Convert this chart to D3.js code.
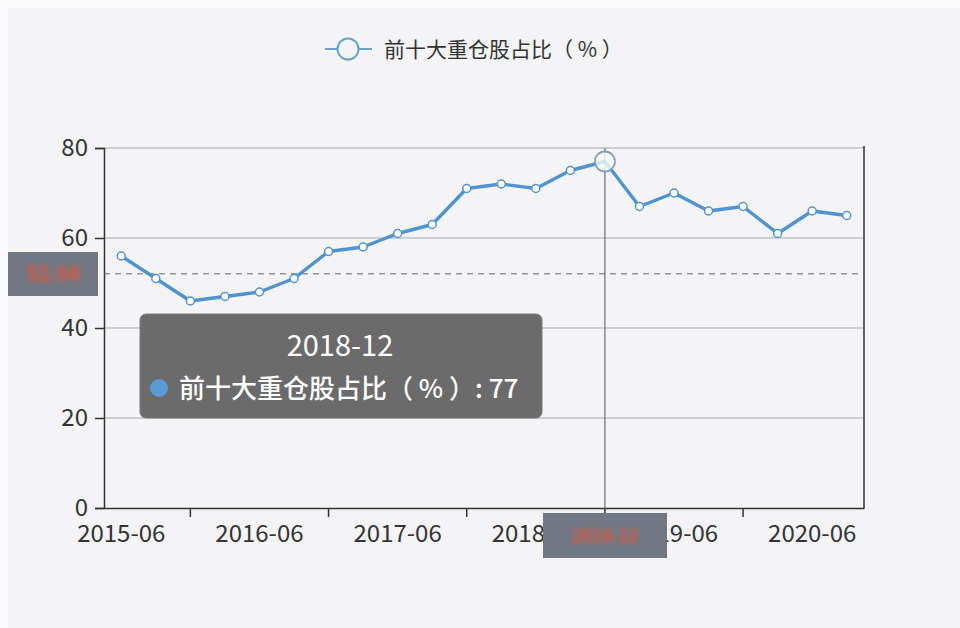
<!DOCTYPE html>
<html><head><meta charset="utf-8">
<script src="https://cdn.jsdelivr.net/npm/d3@7/dist/d3.min.js"></script>
<style>html,body{margin:0;padding:0;background:#fbfbfc;}svg{display:block;}</style>
</head><body>
<svg id="c" width="960" height="628"></svg>
<script>
const categories = ["2015-06","2015-09","2015-12","2016-03","2016-06","2016-09","2016-12","2017-03","2017-06","2017-09","2017-12","2018-03","2018-06","2018-09","2018-12","2019-03","2019-06","2019-09","2019-12","2020-03","2020-06","2020-09"];
const values = [56,51,46,47,48,51,57,58,61,63,71,72,71,75,77,67,70,66,67,61,66,65];
const seriesName = "前十大重仓股占比（ % ）";
const yTicks = [0,20,40,60,80];
const xLabelCats = ["2015-06","2016-06","2017-06","2018-06","2019-06","2020-06"];
const xTickCats = ["2015-12","2016-12","2017-12","2018-12","2019-12"];
const hoverCat = "2018-12";
const hoverY = 52.04;

const font = "'Noto Sans CJK SC','Noto Sans',sans-serif";
const svg = d3.select("#c");
const W = 960, H = 628;
const m = {l:104, r:864, t:148, b:508};

svg.append("rect").attr("x",8).attr("y",8).attr("width",W-8).attr("height",H-8).attr("fill","#f4f4f6");

const x = d3.scaleBand().domain(categories).range([m.l, m.r]);
const y = d3.scaleLinear().domain([0,80]).range([m.b, m.t]);
const cx = c => x(c) + x.bandwidth()/2;

// grid
svg.append("g").selectAll("line").data(yTicks.filter(v=>v>0)).join("line")
  .attr("x1",m.l).attr("x2",m.r).attr("y1",d=>y(d)).attr("y2",d=>y(d))
  .attr("stroke","#a9a9ad").attr("stroke-width",1);

// y axis
const yAxis = d3.axisLeft(y).tickValues(yTicks).tickSize(9).tickPadding(7);
const gy = svg.append("g").attr("transform",`translate(${m.l},0)`).call(yAxis);
gy.select(".domain").attr("stroke","#333").attr("stroke-width",1.5);
gy.selectAll(".tick line").attr("stroke","#333").attr("stroke-width",1.5);
gy.selectAll("text").attr("font-family",font).attr("font-size",24).attr("fill","#333");

// right border
svg.append("line").attr("x1",m.r).attr("x2",m.r).attr("y1",m.t-2).attr("y2",m.b)
  .attr("stroke","#333").attr("stroke-width",1.5);

// x axis
const xAxis = d3.axisBottom(x).tickValues(xLabelCats).tickSize(0).tickPadding(17);
const gx = svg.append("g").attr("transform",`translate(0,${m.b})`).call(xAxis);
gx.select(".domain").attr("stroke","#333").attr("stroke-width",1.5);
gx.selectAll("text").attr("font-family",font).attr("font-size",24).attr("fill","#333");
svg.append("g").selectAll("line").data(xTickCats).join("line")
  .attr("x1",d=>cx(d)).attr("x2",d=>cx(d)).attr("y1",m.b).attr("y2",m.b+9)
  .attr("stroke","#333").attr("stroke-width",1.5);

// crosshair
svg.append("line").attr("x1",m.l).attr("x2",m.r).attr("y1",y(hoverY)).attr("y2",y(hoverY))
  .attr("stroke","#666").attr("stroke-width",1).attr("stroke-dasharray","6,5");
svg.append("line").attr("x1",cx(hoverCat)).attr("x2",cx(hoverCat)).attr("y1",m.t).attr("y2",m.b+6)
  .attr("stroke","#555").attr("stroke-width",1);

// line
const line = d3.line().x((d,i)=>cx(categories[i])).y(d=>y(d));
svg.append("path").datum(values).attr("d",line).attr("fill","none")
  .attr("stroke","#4f94cc").attr("stroke-width",3.4).attr("stroke-linejoin","round");
svg.append("g").selectAll("circle").data(values).join("circle")
  .attr("cx",(d,i)=>cx(categories[i])).attr("cy",d=>y(d))
  .attr("r",(d,i)=>categories[i]===hoverCat?0:4)
  .attr("fill","#fff").attr("stroke","#4f94cc").attr("stroke-width",1.5);
const hi = categories.indexOf(hoverCat);
svg.append("circle").attr("cx",cx(hoverCat)).attr("cy",y(values[hi])).attr("r",10)
  .attr("fill","#fff").attr("fill-opacity",0.75).attr("stroke","#7fa2b6").attr("stroke-width",1.8);

// blur filter for obscured labels
const defs = svg.append("defs");
defs.append("filter").attr("id","blur").append("feGaussianBlur").attr("stdDeviation",2.2);

// y pointer label box
svg.append("rect").attr("x",8).attr("y",252).attr("width",90).attr("height",44).attr("fill","#727883");
svg.append("text").attr("x",53).attr("y",y(hoverY)).attr("dy","0.35em").attr("text-anchor","middle")
  .attr("font-family",font).attr("font-size",20).attr("font-weight","bold").attr("fill","#e0553c")
  .attr("filter","url(#blur)").text(hoverY.toFixed(2));
// x pointer label box
svg.append("rect").attr("x",543).attr("y",513).attr("width",124).attr("height",45).attr("fill","#727883");
svg.append("text").attr("x",cx(hoverCat)).attr("y",536).attr("dy","0.35em").attr("text-anchor","middle")
  .attr("font-family",font).attr("font-size",17).attr("font-weight","bold").attr("fill","#e0553c")
  .attr("filter","url(#blur)").text(hoverCat);

// tooltip
svg.append("rect").attr("x",140).attr("y",314).attr("width",402).attr("height",104).attr("rx",6)
  .attr("fill","#6b6b6b").attr("stroke","#7a7a7a").attr("stroke-width",1);
svg.append("text").attr("x",340).attr("y",356).attr("text-anchor","middle")
  .attr("font-family",font).attr("font-size",29).attr("fill","#fff").text(hoverCat);
svg.append("circle").attr("cx",159).attr("cy",388).attr("r",9).attr("fill","#5b9bd5");
svg.append("text").attr("x",179).attr("y",398)
  .attr("font-family",font).attr("font-size",26).attr("font-weight",500).attr("fill","#fff")
  .text(`${seriesName}: ${values[hi]}`);

// legend
svg.append("line").attr("x1",325).attr("x2",372).attr("y1",49).attr("y2",49)
  .attr("stroke","#6aa5c8").attr("stroke-width",2);
svg.append("circle").attr("cx",348).attr("cy",49).attr("r",10.5)
  .attr("fill","#f4f4f6").attr("stroke","#6aa5c8").attr("stroke-width",2);
svg.append("text").attr("x",384).attr("y",57)
  .attr("font-family",font).attr("font-size",21).attr("fill","#333").text(seriesName);
</script>
</body></html>
